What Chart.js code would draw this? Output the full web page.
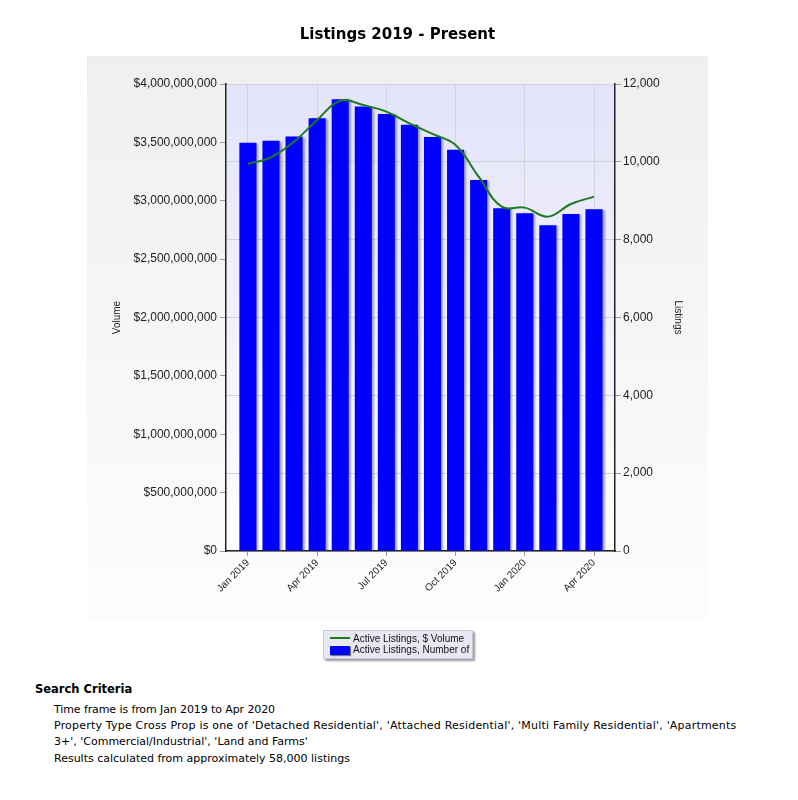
<!DOCTYPE html>
<html>
<head>
<meta charset="utf-8">
<script src="https://cdn.jsdelivr.net/npm/chart.js@4/dist/chart.umd.min.js"></script>
<style>
  html, body { margin: 0; padding: 0; background: #ffffff; }
  body { width: 798px; height: 800px; position: relative; overflow: hidden; font-family: "DejaVu Sans", Verdana, sans-serif; color: #000; }
  #wrap { position: absolute; left: 0; top: 0; width: 798px; height: 640px; }
  #legend { position: absolute; left: 323px; top: 630px; width: 148px; height: 27px; background: #e8e8f4; border: 1px solid #c8c8d8; box-shadow: 2px 2px 2px #9a9a9a; font-family: "Liberation Sans", Arial, sans-serif; font-size: 10px; color: #111; }
  .li { position: absolute; left: 6px; height: 11px; line-height: 11px; white-space: nowrap; }
  .li .sw { display: inline-block; vertical-align: middle; margin-right: 3px; }
  .txt { position: absolute; white-space: nowrap; font-size: 11px; }
</style>
</head>
<body>
<div id="wrap"><canvas id="c"></canvas></div>
<div id="legend">
  <div class="li" style="top:2px;"><span class="sw" style="width:20px;height:0;border-top:2px solid #1e7a1e;margin-top:-2px;"></span>Active Listings, $ Volume</div>
  <div class="li" style="top:13px;"><span class="sw" style="width:20px;height:9px;background:#0000ff;box-shadow:1px 1px 1px #777;"></span>Active Listings, Number of</div>
</div>
<div class="txt" style="left:35px;top:682px;font-size:11.5px;font-weight:bold;">Search Criteria</div>
<div class="txt" style="left:54px;top:703px;letter-spacing:-0.1px;">Time frame is from Jan 2019 to Apr 2020</div>
<div class="txt" style="left:54px;top:719px;letter-spacing:0.2px;">Property Type Cross Prop is one of 'Detached Residential', 'Attached Residential', 'Multi Family Residential', 'Apartments</div>
<div class="txt" style="left:54px;top:735px;">3+', 'Commercial/Industrial', 'Land and Farms'</div>
<div class="txt" style="left:54px;top:752px;">Results calculated from approximately 58,000 listings</div>
<script>
const months = ['Jan 2019','Feb 2019','Mar 2019','Apr 2019','May 2019','Jun 2019','Jul 2019','Aug 2019','Sep 2019','Oct 2019','Nov 2019','Dec 2019','Jan 2020','Feb 2020','Mar 2020','Apr 2020'];
const listingsCount = [10490, 10540, 10650, 11120, 11610, 11420, 11230, 10950, 10640, 10310, 9530, 8810, 8680, 8370, 8660, 8780];
const dollarVolume = [3315e6, 3372e6, 3506e6, 3692e6, 3857e6, 3820e6, 3763e6, 3663e6, 3572e6, 3478e6, 3206e6, 2949e6, 2941e6, 2864e6, 2972e6, 3035e6];
const labeledTicks = [0, 3, 6, 9, 12, 15];
const volumeTicksMax = 4000000000;
const listingsTicksMax = 12000;

const bgPlugin = {
  id: 'bg',
  beforeDraw(chart) {
    const ctx = chart.ctx, a = chart.chartArea;
    ctx.save();
    let g = ctx.createLinearGradient(0, 56, 0, 620);
    g.addColorStop(0, '#efefef');
    g.addColorStop(1, '#fdfdfd');
    ctx.fillStyle = g;
    ctx.fillRect(87, 56, 621, 564);
    g = ctx.createLinearGradient(0, a.top, 0, a.bottom);
    g.addColorStop(0, '#e3e3fa');
    g.addColorStop(1, '#ffffff');
    ctx.fillStyle = g;
    ctx.fillRect(a.left, a.top, a.right - a.left, a.bottom - a.top);
    ctx.restore();
  },
  beforeDatasetDraw(chart, args) {
    if (chart.data.datasets[args.index].type === 'bar') {
      const ctx = chart.ctx;
      ctx.save();
      ctx.shadowColor = 'rgba(60,60,60,0.45)';
      ctx.shadowOffsetX = 2;
      ctx.shadowOffsetY = 1;
      ctx.shadowBlur = 2;
    }
  },
  afterDatasetDraw(chart, args) {
    if (chart.data.datasets[args.index].type === 'bar') {
      chart.ctx.restore();
    }
  }
};

const tickFont = { family: '"Liberation Sans", Arial, sans-serif', size: 12 };

new Chart(document.getElementById('c'), {
  data: {
    datasets: [
      {
        type: 'line',
        label: 'Active Listings, $ Volume',
        data: dollarVolume.map((v, i) => ({ x: i, y: v })),
        yAxisID: 'y',
        borderColor: '#1e7a1e',
        borderWidth: 2,
        pointRadius: 0,
        tension: 0.4,
        fill: false,
        order: 0
      },
      {
        type: 'bar',
        label: 'Active Listings, Number of',
        data: listingsCount.map((v, i) => ({ x: i, y: v })),
        yAxisID: 'y1',
        backgroundColor: '#0000ff',
        borderWidth: 0,
        barPercentage: 0.74,
        categoryPercentage: 1,
        order: 1
      }
    ]
  },
  options: {
    responsive: true,
    maintainAspectRatio: false,
    animation: false,
    layout: { padding: { left: 107, right: 110, top: 0, bottom: 29 } },
    plugins: {
      legend: { display: false },
      tooltip: { enabled: false },
      title: {
        display: true,
        text: 'Listings 2019 - Present',
        color: '#000',
        font: { family: '"DejaVu Sans", Verdana, sans-serif', size: 15, weight: 'bold', lineHeight: 1.2 },
        padding: { top: 26, bottom: 40 }
      }
    },
    scales: {
      x: {
        type: 'linear',
        offset: false,
        min: -0.95,
        max: 15.91,
        afterBuildTicks(scale) { scale.ticks = labeledTicks.map(v => ({ value: v })); },
        afterFit(scale) { scale.height = 60; },
        ticks: {
          autoSkip: false,
          minRotation: 45,
          maxRotation: 45,
          padding: 1,
          color: '#222',
          font: { family: '"Liberation Sans", Arial, sans-serif', size: 10 },
          callback: (v) => months[v] || ''
        },
        grid: { offset: false, color: '#d2d2dc', tickColor: '#999', tickLength: 5, drawOnChartArea: true },
        border: { color: '#222', width: 1.5 }
      },
      y: {
        position: 'left',
        min: 0,
        max: volumeTicksMax,
        afterFit(scale) { scale.width = 119; },
        ticks: {
          stepSize: 500000000,
          padding: 3,
          color: '#222',
          font: tickFont,
          callback: (v) => '$' + Number(v).toLocaleString('en-US')
        },
        grid: { drawOnChartArea: false, tickLength: 6, tickColor: '#999' },
        border: { color: '#222', width: 1.5 },
        title: { display: true, text: 'Volume', color: '#222', font: { family: '"Liberation Sans", Arial, sans-serif', size: 10 } }
      },
      y1: {
        position: 'right',
        min: 0,
        max: listingsTicksMax,
        afterFit(scale) { scale.width = 73; },
        ticks: {
          stepSize: 2000,
          padding: 2,
          color: '#222',
          font: tickFont,
          callback: (v) => Number(v).toLocaleString('en-US')
        },
        grid: { color: '#d2d2dc', tickLength: 6, tickColor: '#999' },
        border: { color: '#222', width: 1.5 },
        title: { display: true, text: 'Listings', color: '#222', font: { family: '"Liberation Sans", Arial, sans-serif', size: 10 } }
      }
    }
  },
  plugins: [bgPlugin]
});
</script>
</body>
</html>
